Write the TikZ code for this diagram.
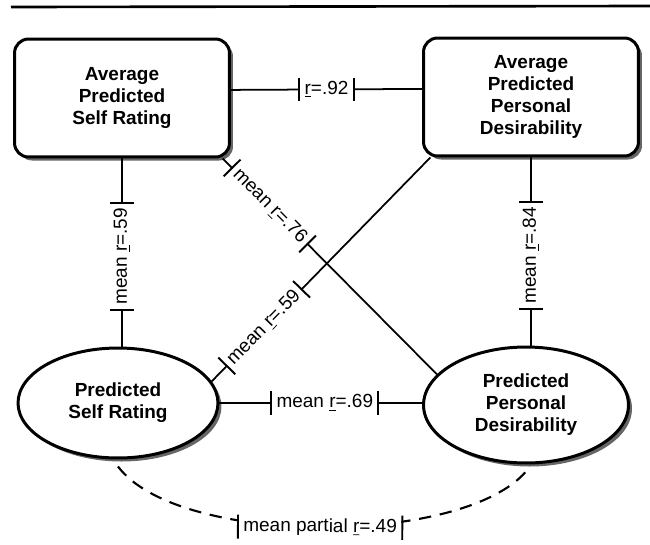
\documentclass[tikz,border=0pt]{standalone}
\usepackage{fontspec}
\setmainfont{Liberation Sans}
\usepackage{tikz}
\usetikzlibrary{positioning}
\usetikzlibrary{shapes.geometric,shadows}
\tikzset{avgbox/.style = {font=\fontsize{10.8pt}{12.5pt}\selectfont\bfseries, align=center, draw, line width=1.7pt, rounded corners=8pt, fill=white, minimum width=4.3cm, minimum height=2.36cm, drop shadow={shadow xshift=2pt, shadow yshift=-2pt, fill=black!60, opacity=1}}}
\tikzset{predell/.style = {ellipse, font=\fontsize{10.8pt}{12.5pt}\selectfont\bfseries, align=center, draw, line width=1.7pt, fill=white, inner sep=0pt, drop shadow={shadow xshift=2pt, shadow yshift=-2pt, fill=black!60, opacity=1}}}
\tikzset{conn/.style = {line width=1pt}}
\tikzset{corr/.style = {font=\fontsize{10.8pt}{12.5pt}\selectfont, fill=white, inner xsep=2.5pt, inner ysep=1pt, text height=8pt, text depth=2.5pt,
  append after command={(\tikzlastnode.north west) edge[solid,line width=1.1pt] (\tikzlastnode.south west)
                        (\tikzlastnode.north east) edge[solid,line width=1.1pt] (\tikzlastnode.south east)}}}

\begin{document}
\begin{tikzpicture}[x=0.02cm, y=-0.02cm]
\useasboundingbox (0,0) rectangle (650,545);
\draw[line width=1.5pt] (11,7) -- (650,6);

\node[avgbox](b1) at (122,98) {Average\\Predicted\\Self Rating};
\node[avgbox](b2) at (531,97) {Average\\Predicted\\Personal\\Desirability};
\node[predell, minimum width=4cm, minimum height=2.2cm](e1) at (118,403) {Predicted\\Self Rating};
\node[predell, minimum width=4.1cm, minimum height=2.32cm](e2) at (526,405) {Predicted\\Personal\\Desirability};

\draw[conn] ([yshift=4.6pt]b1.east) -- node[corr] {\underline{r}=.92} ([yshift=4.6pt]b2.west);
\draw[conn] (b1.south) -- node[corr, rotate=90, pos=0.52] {mean \underline{r}=.59} (b1.south |- e1.north);
\draw[conn] (b2.south) -- node[corr, rotate=90, pos=0.52] {mean \underline{r}=.84} (b2.south |- e2.north);
\draw[conn] (b1.-31) -- node[corr, sloped, pos=0.22] {mean \underline{r}=.76} (e2.161);
\draw[conn] (e1.13) -- node[corr, sloped, pos=0.24] {mean \underline{r}=.59} (b2.211);
\draw[conn] (e1) -- node[corr, pos=0.52] {mean \underline{r}=.69} (e1 -| e2.west);
\draw[conn, line width=1.2pt, dash pattern=on 7pt off 5pt] ([yshift=-4pt]e1.south) .. controls +(60,80) and +(-65,75) .. node[corr, sloped] {mean partial \underline{r}=.49} ([yshift=-4pt]e2.south);
\end{tikzpicture}
\end{document}
